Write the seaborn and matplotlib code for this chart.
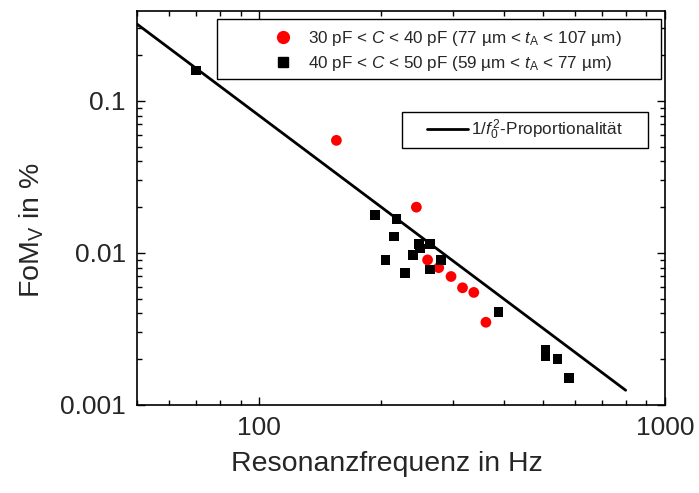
import numpy as np
import pandas as pd
import matplotlib
matplotlib.use("Agg")
import matplotlib.pyplot as plt
from matplotlib.lines import Line2D
from matplotlib.patches import Rectangle
from matplotlib.ticker import LogLocator, NullFormatter, FixedLocator, FixedFormatter
import seaborn as sns

# Resonance frequency (Hz) and FoM_V (%) per capacitance group
f_30_40 = [155, 244, 260, 277, 297, 317, 338, 362]
fom_30_40 = [0.055, 0.020, 0.0090, 0.0080, 0.0070, 0.0059, 0.0055, 0.0035]

f_40_50 = [70, 193, 218, 215, 248, 249, 264, 239, 205, 281, 229, 264, 389, 508, 508, 543, 580]
fom_40_50 = [0.158, 0.0178, 0.0167, 0.0128, 0.0114, 0.0107, 0.0115, 0.0097, 0.0090,
             0.0090, 0.0074, 0.0078, 0.0041, 0.0023, 0.0021, 0.0020, 0.0015]

# 1/f0^2 reference line: FoM = k / f^2 over the given frequency span
fit_k = 800.0
fit_span = [50, 800]

label_30_40 = r"30 pF < $C$ < 40 pF (77 µm < $t_\mathrm{A}$ < 107 µm)"
label_40_50 = r"40 pF < $C$ < 50 pF (59 µm < $t_\mathrm{A}$ < 77 µm)"
label_fit = r"1/$f_0^{\,2}$-Proportionalität"

sns.set_theme(style="ticks")
plt.rcParams["font.family"] = ["Liberation Sans", "DejaVu Sans"]
plt.rcParams["mathtext.fontset"] = "custom"
plt.rcParams["mathtext.rm"] = "Liberation Sans"
plt.rcParams["mathtext.it"] = "Liberation Sans:italic"
plt.rcParams["mathtext.bf"] = "Liberation Sans:bold"

df_a = pd.DataFrame({"f": f_30_40, "fom": fom_30_40})
df_b = pd.DataFrame({"f": f_40_50, "fom": fom_40_50})
f_line = np.geomspace(fit_span[0], fit_span[1], 50)
df_fit = pd.DataFrame({"f": f_line, "fom": fit_k / f_line ** 2})

fig = plt.figure(figsize=(6.99, 4.93), dpi=100)
ax = fig.add_axes([137 / 699, 1 - 405 / 493, (665 - 137) / 699, (405 - 11) / 493])

sns.lineplot(data=df_fit, x="f", y="fom", ax=ax, color="black", lw=2.0,
             legend=False, zorder=2)
sns.scatterplot(data=df_a, x="f", y="fom", ax=ax, color="#ff0000", marker="o",
                s=60, edgecolor="none", legend=False, zorder=3)
sns.scatterplot(data=df_b, x="f", y="fom", ax=ax, color="black", marker="s",
                s=48, edgecolor="none", legend=False, zorder=3)

ax.set_xscale("log")
ax.set_yscale("log")
ax.set_xlim(50, 1000)
ax.set_ylim(0.001, 0.39)

ax.xaxis.set_major_locator(FixedLocator([100, 1000]))
ax.xaxis.set_major_formatter(FixedFormatter(["100", "1000"]))
ax.xaxis.set_minor_locator(LogLocator(base=10, subs=np.arange(2, 10)))
ax.xaxis.set_minor_formatter(NullFormatter())
ax.yaxis.set_major_locator(FixedLocator([0.001, 0.01, 0.1]))
ax.yaxis.set_major_formatter(FixedFormatter(["0.001", "0.01", "0.1"]))
ax.yaxis.set_minor_locator(LogLocator(base=10, subs=np.arange(2, 10)))
ax.yaxis.set_minor_formatter(NullFormatter())

ax.tick_params(which="both", direction="in", top=True, right=True,
               color="black", width=1.0)
ax.tick_params(which="major", length=6, labelsize=19, pad=8)
ax.tick_params(which="minor", length=3.5)
for sp in ax.spines.values():
    sp.set_color("black")
    sp.set_linewidth(1.2)

ax.set_xlabel("Resonanzfrequenz in Hz", fontsize=20.5)
ax.set_ylabel(r"FoM$_\mathrm{V}$ in %", fontsize=20.5)
ax.xaxis.set_label_coords(0.4735, -0.117)
ax.yaxis.set_label_coords(-0.172, 0.444)

# Legend boxes are drawn as plain rectangles, entries placed inside them
legend_kw = dict(fontsize=12.3, frameon=False, borderpad=0, borderaxespad=0)
box_kw = dict(transform=ax.transAxes, facecolor="white", edgecolor="black",
              linewidth=1.0, zorder=4)

ax.add_patch(Rectangle((0.1515, 0.8274), 0.8409, 0.1523, **box_kw))
h_a = Line2D([], [], ls="none", marker="o", color="#ff0000", markersize=8.5)
h_b = Line2D([], [], ls="none", marker="s", color="black", markersize=7.5)
leg1 = ax.legend([h_a, h_b], [label_30_40, label_40_50], loc="center left",
                 bbox_to_anchor=(0.2604, 0.8997), handlelength=1.0,
                 handletextpad=0.97, labelspacing=0.35, **legend_kw)
leg1.set_zorder(5)
ax.add_artist(leg1)

ax.add_patch(Rectangle((0.5019, 0.6523), 0.4659, 0.0914, **box_kw))
h_fit = Line2D([], [], color="black", lw=2.0)
leg2 = ax.legend([h_fit], [label_fit], loc="center left",
                 bbox_to_anchor=(0.55, 0.698), handlelength=2.4,
                 handletextpad=0.15, **legend_kw)
leg2.set_zorder(5)

fig.savefig("out.png", dpi=100)
